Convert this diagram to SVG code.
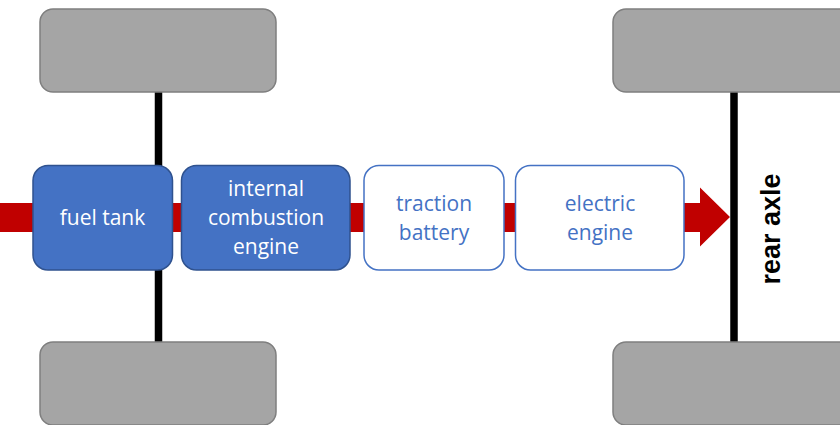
<svg xmlns="http://www.w3.org/2000/svg" width="840" height="425" viewBox="0 0 840 425">
<style>
.wheel{fill:#A5A5A5;stroke:#7F7F7F;stroke-width:1.5}
.axle{stroke:#000;stroke-width:7.5}
.solid{fill:#4472C4;stroke:#2F528F;stroke-width:1.5}
.open{fill:#fff;stroke:#4472C4;stroke-width:1.5}
.t{font-family:"Open Sans","Liberation Sans",sans-serif;font-size:21px;text-anchor:middle}
.w{fill:#fff}
.b{fill:#4472C4}
.lbl{font-family:"Liberation Sans",Arial,sans-serif;font-size:27px;font-weight:bold;fill:#000;text-anchor:middle}
</style>
<rect width="840" height="425" fill="#fff"/>
<g id="connectors">
<line class="axle" x1="158.5" y1="92" x2="158.5" y2="342"/>
<line class="axle" x1="734" y1="92" x2="734" y2="342"/>
<path d="M0 203 H700 V187.5 L730 217 L700 246.5 V232 H0 Z" fill="#C00000"/>
</g>
<g id="wheel-front-left"><rect class="wheel" x="40" y="9" width="236" height="83" rx="13"/></g>
<g id="wheel-rear-left"><rect class="wheel" x="40" y="342" width="236" height="83" rx="13"/></g>
<g id="wheel-front-right"><rect class="wheel" x="613" y="9" width="240" height="83" rx="13"/></g>
<g id="wheel-rear-right"><rect class="wheel" x="613" y="342" width="240" height="83" rx="13"/></g>
<g id="fuel-tank">
<rect class="solid" x="33" y="165.5" width="139.5" height="104.5" rx="15"/>
<text class="t w" x="102.5" y="225">fuel tank</text>
</g>
<g id="ice">
<rect class="solid" x="181.5" y="165.5" width="168.5" height="104.5" rx="15"/>
<text class="t w" x="266" y="196">internal</text>
<text class="t w" x="266" y="225">combustion</text>
<text class="t w" x="266" y="254">engine</text>
</g>
<g id="traction-battery">
<rect class="open" x="364" y="165.5" width="140" height="104.5" rx="15"/>
<text class="t b" x="434" y="211">traction</text>
<text class="t b" x="434" y="240">battery</text>
</g>
<g id="electric-engine">
<rect class="open" x="515.5" y="165.5" width="168.5" height="104.5" rx="15"/>
<text class="t b" x="600" y="211">electric</text>
<text class="t b" x="600" y="240">engine</text>
</g>
<g id="rear-axle-label">
<text class="lbl" transform="translate(780 229) rotate(-90)">rear axle</text>
</g>
</svg>
